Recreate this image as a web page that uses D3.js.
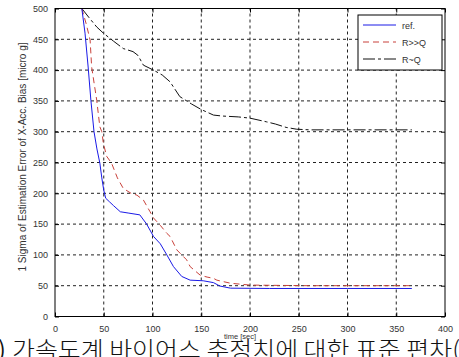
<!DOCTYPE html>
<html>
<head>
<meta charset="utf-8">
<script src="https://cdn.jsdelivr.net/npm/d3@7"></script>
<style>
body { margin: 0; background: #fff; }
svg { display: block; }
.tick text { font-family: Arial, "Liberation Sans", sans-serif; font-size: 9px; fill: #333; }
</style>
</head>
<body>
<div id="chart"></div>
<script>

// x ticks / y ticks
var xTicks = [0, 50, 100, 150, 200, 250, 300, 350, 400];
var yTicks = [0, 50, 100, 150, 200, 250, 300, 350, 400, 450, 500];

// ref. (solid blue)
var refT = [27.5, 30.8, 34, 36.8, 40, 43, 46, 48, 50, 52, 56, 60, 67, 75, 87, 94, 101, 108, 114.7, 121.5, 130, 138.6, 152, 162.5, 169, 180, 220, 300, 366];
var refV = [500, 460, 405, 351, 300, 272, 249, 225, 205, 192, 186, 180, 170, 168, 165, 150, 130, 118, 100, 81, 65, 59, 58, 55, 49.5, 46, 45.5, 45.5, 45.5];

// R>>Q (red dashed)
var rqT = [27.5, 32, 36, 37.6, 42.8, 46, 48, 49.6, 53, 58, 64, 70, 78, 84, 90.7, 97.5, 101, 108, 114.7, 118, 125, 135, 138.6, 149, 156, 162.5, 166, 180, 200, 260, 366];
var rqV = [500, 475, 449, 405, 351, 308, 300, 281, 260, 249, 225, 208, 200, 197, 189, 170, 160, 148, 135, 130, 108, 92, 81, 67, 64, 62, 59, 54, 51, 50, 50];

// R~Q (black dash-dot)
var rrT = [27.5, 35, 42.8, 49.6, 60, 70, 80, 85, 90.7, 101, 110, 118, 128, 140, 150, 162.5, 171, 188, 200, 217, 226, 237, 248, 262, 300, 366];
var rrV = [500, 485, 470, 460, 447, 435, 430, 424, 408, 400, 392, 381, 357, 345, 336, 327, 325.5, 324, 322, 316, 312.5, 307, 304, 303, 303, 303];

var legendNames = ["ref.", "R>>Q", "R~Q"];
var lineColors = ["#1a1ae6", "#c8413a", "#111"];
var lineDash = [null, "6,4", "12,3,3,3"];

var W = 459, H = 357;
var margin = { top: 8.5, right: 14, bottom: 40.5, left: 55 };

var svg = d3.select("#chart").append("svg")
	.attr("width", W)
	.attr("height", H);

var xScale = d3.scaleLinear().domain([0, 400]).range([margin.left, W - margin.right]);
var yScale = d3.scaleLinear().domain([0, 500]).range([H - margin.bottom, margin.top]);

var x0 = xScale(0), x1 = xScale(400), y0 = yScale(0), y1 = yScale(500);

// grid lines
var grid = svg.append("g");
grid.selectAll("line.gx")
	.data(xTicks.slice(1, -1)).enter()
	.append("line")
		.attr("x1", function(d){ return xScale(d) })
		.attr("x2", function(d){ return xScale(d) })
		.attr("y1", y0).attr("y2", y1)
		.attr("stroke", "#222").attr("stroke-dasharray", "3,3").attr("stroke-width", 1);
grid.selectAll("line.gy")
	.data(yTicks.slice(1, -1)).enter()
	.append("line")
		.attr("y1", function(d){ return yScale(d) })
		.attr("y2", function(d){ return yScale(d) })
		.attr("x1", x0).attr("x2", x1)
		.attr("stroke", "#222").attr("stroke-dasharray", "3,3").attr("stroke-width", 1);

// axes (ticks inward)
var xAxis = d3.axisBottom(xScale).tickValues(xTicks).tickSizeInner(-4).tickSizeOuter(0).tickPadding(9);
var yAxis = d3.axisLeft(yScale).tickValues(yTicks).tickSizeInner(-4).tickSizeOuter(0).tickPadding(7);

svg.append("g").attr("transform", "translate(0," + y0 + ")").call(xAxis)
	.call(function(g){ g.select(".domain").remove() });
svg.append("g").attr("transform", "translate(" + x0 + ",0)").call(yAxis)
	.call(function(g){ g.select(".domain").remove() });
svg.append("g").attr("transform", "translate(0," + y1 + ")")
	.call(d3.axisTop(xScale).tickValues(xTicks).tickSizeInner(-4).tickSizeOuter(0).tickFormat(""))
	.call(function(g){ g.select(".domain").remove() });
svg.append("g").attr("transform", "translate(" + x1 + ",0)")
	.call(d3.axisRight(yScale).tickValues(yTicks).tickSizeInner(-4).tickSizeOuter(0).tickFormat(""))
	.call(function(g){ g.select(".domain").remove() });

// clip to plot box
svg.append("clipPath").attr("id", "clip")
	.append("rect").attr("x", x0).attr("y", y1).attr("width", x1 - x0).attr("height", y0 - y1);

var line = d3.line()
	.x(function(d){ return xScale(d[0]) })
	.y(function(d){ return yScale(d[1]) });

var series = [d3.zip(refT, refV), d3.zip(rqT, rqV), d3.zip(rrT, rrV)];
var plot = svg.append("g").attr("clip-path", "url(#clip)");
// draw R~Q first, then R>>Q, then ref
[2, 1, 0].forEach(function(i){
	plot.append("path")
		.datum(series[i])
		.attr("d", line)
		.attr("fill", "none")
		.attr("stroke", lineColors[i])
		.attr("stroke-width", 1)
		.attr("stroke-dasharray", lineDash[i]);
});

// frame
svg.append("rect")
	.attr("x", x0).attr("y", y1).attr("width", x1 - x0).attr("height", y0 - y1)
	.attr("fill", "none").attr("stroke", "#000").attr("stroke-width", 1);

// legend
var lg = svg.append("g").attr("transform", "translate(358,15)");
lg.append("rect").attr("width", 84).attr("height", 55)
	.attr("fill", "#fff").attr("stroke", "#000").attr("stroke-width", 1);
legendNames.forEach(function(name, i){
	var yy = 10 + i * 17;
	lg.append("line")
		.attr("x1", 5).attr("x2", 38).attr("y1", yy).attr("y2", yy)
		.attr("stroke", lineColors[i]).attr("stroke-width", 1)
		.attr("stroke-dasharray", lineDash[i]);
	lg.append("text")
		.attr("x", 44).attr("y", yy + 3.5)
		.text(name)
		.style("font-family", "Arial, 'Liberation Sans', sans-serif")
		.style("font-size", "9px")
		.style("fill", "#333");
});

// caption (cut off at both sides in the source)
svg.append("text")
	.text(")")
	.attr("x", -2).attr("y", 358)
	.style("font-family", "'Noto Sans CJK KR', sans-serif")
	.style("font-size", "23px")
	.style("fill", "#111");
svg.append("text")
	.text("가속도계 바이어스 추정치에 대한 표준 편차(")
	.attr("x", 12).attr("y", 358)
	.attr("textLength", 448)
	.attr("lengthAdjust", "spacingAndGlyphs")
	.style("font-family", "'Noto Sans CJK KR', sans-serif")
	.style("font-size", "23px")
	.style("font-weight", 300)
	.style("fill", "#111");

// axis labels
svg.append("text")
	.text("time [sec]")
	.attr("x", 240).attr("y", 339)
	.style("text-anchor", "middle")
	.style("font-family", "Arial, 'Liberation Sans', sans-serif")
	.style("font-size", "7.5px")
	.style("fill", "#333");

svg.append("text")
	.text("1 Sigma of Estimation Error of X-Acc. Bias [micro g]")
	.attr("transform", "translate(26," + 157 + ") rotate(-90)")
	.style("text-anchor", "middle")
	.style("font-family", "Arial, 'Liberation Sans', sans-serif")
	.style("font-size", "10px")
	.style("fill", "#333");

</script>
</body>
</html>
